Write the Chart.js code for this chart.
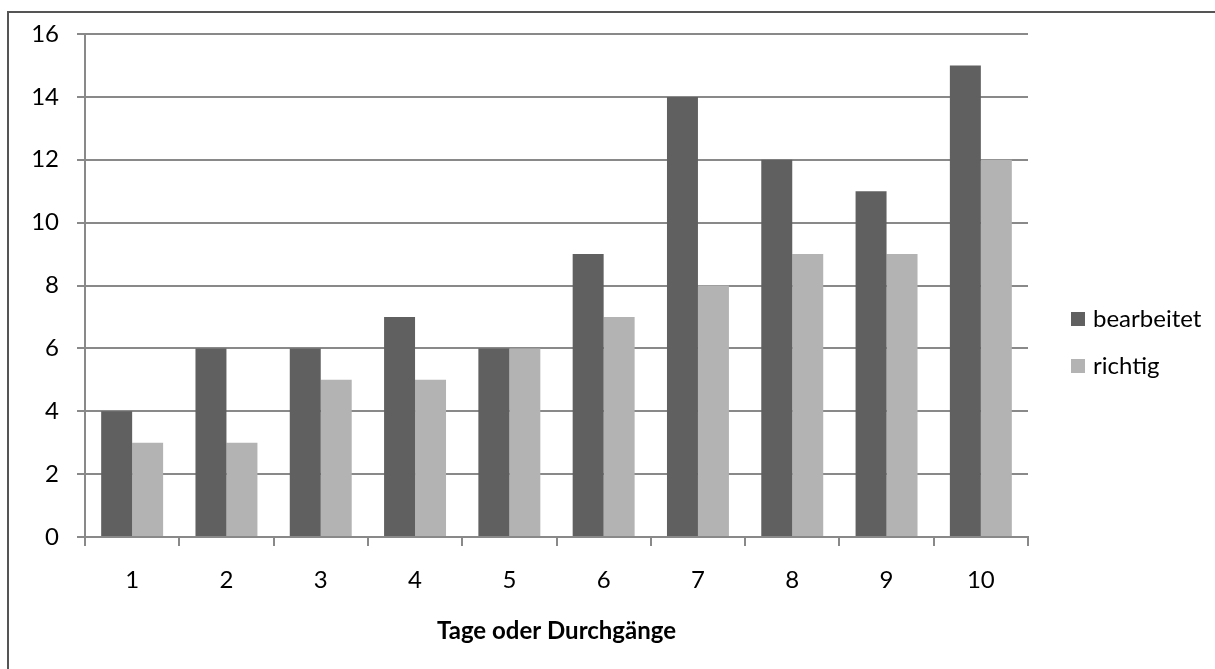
<!DOCTYPE html>
<html>
<head>
<meta charset="utf-8">
<script src="https://cdn.jsdelivr.net/npm/chart.js@4.4.1/dist/chart.umd.min.js"></script>
<style>
  html, body { margin: 0; padding: 0; background: #fff; overflow: hidden; }
  #wrap { position: relative; width: 1215px; height: 669px; }
  #frame { position: absolute; left: 7px; top: 11px; width: 1400px; height: 900px; border: 2px solid #555; box-sizing: border-box; }
  canvas { position: absolute; left: 0; top: 0; }
</style>
</head>
<body>
<div id="wrap">
  <div id="frame"></div>
  <canvas id="c" width="1215" height="669"></canvas>
</div>
<script>
const categories = ["1", "2", "3", "4", "5", "6", "7", "8", "9", "10"];
const seriesNames = ["bearbeitet", "richtig"];
const bearbeitet = [4, 6, 6, 7, 6, 9, 14, 12, 11, 15];
const richtig = [3, 3, 5, 5, 6, 7, 8, 9, 9, 12];
const seriesColors = ["#606060", "#b3b3b3"];
const xTitle = "Tage oder Durchgänge";
const yMin = 0, yMax = 16, yStep = 2;

const FONT = "Lato, 'Open Sans', sans-serif";
const FSIZE = 24;
const GRID = "#898989";

const legendPlugin = {
  id: 'sideLegend',
  afterDraw(chart) {
    const ctx = chart.ctx;
    const area = chart.chartArea;
    ctx.save();
    ctx.font = FSIZE + "px " + FONT;
    ctx.textBaseline = "alphabetic";
    ctx.textAlign = "left";
    const x0 = area.right + 43;
    const yCenter = chart.height / 2 + 4;
    const rowH = 47;
    const n = chart.data.datasets.length;
    chart.data.datasets.forEach((ds, i) => {
      const yBase = yCenter + (i - (n - 1) / 2) * rowH + 12;
      ctx.fillStyle = ds.backgroundColor;
      ctx.fillRect(x0, yBase - 15, 14, 14);
      ctx.fillStyle = "#000";
      ctx.fillText(ds.label, x0 + 22, yBase);
    });
    ctx.restore();
  }
};

new Chart(document.getElementById('c'), {
  type: 'bar',
  data: {
    labels: categories,
    datasets: [
      { label: seriesNames[0], data: bearbeitet, backgroundColor: seriesColors[0] },
      { label: seriesNames[1], data: richtig, backgroundColor: seriesColors[1] }
    ]
  },
  options: {
    responsive: false,
    animation: false,
    devicePixelRatio: 1,
    layout: { padding: { left: 0, top: 34, right: 187, bottom: 0 } },
    datasets: { bar: { categoryPercentage: 0.657, barPercentage: 1.0 } },
    plugins: { legend: { display: false }, tooltip: { enabled: false } },
    scales: {
      x: {
        afterFit(scale) { scale.height = 132; },
        grid: { display: true, drawOnChartArea: false, drawTicks: true, tickLength: 9, color: GRID, lineWidth: 2, offset: true },
        border: { display: true, color: GRID, width: 2 },
        ticks: { color: "#000", font: { family: FONT, size: FSIZE }, padding: 20 },
        title: { display: true, text: xTitle, color: "#000", font: { family: FONT, size: FSIZE, weight: 'bold' }, padding: { top: 0, bottom: 23 } }
      },
      y: {
        min: yMin, max: yMax,
        afterFit(scale) { scale.width = 85; },
        grid: { color: GRID, lineWidth: 2, tickLength: 8, drawTicks: true },
        border: { display: true, color: GRID, width: 2 },
        ticks: { stepSize: yStep, color: "#000", font: { family: FONT, size: FSIZE }, padding: 18 }
      }
    }
  },
  plugins: [legendPlugin]
});
</script>
</body>
</html>
